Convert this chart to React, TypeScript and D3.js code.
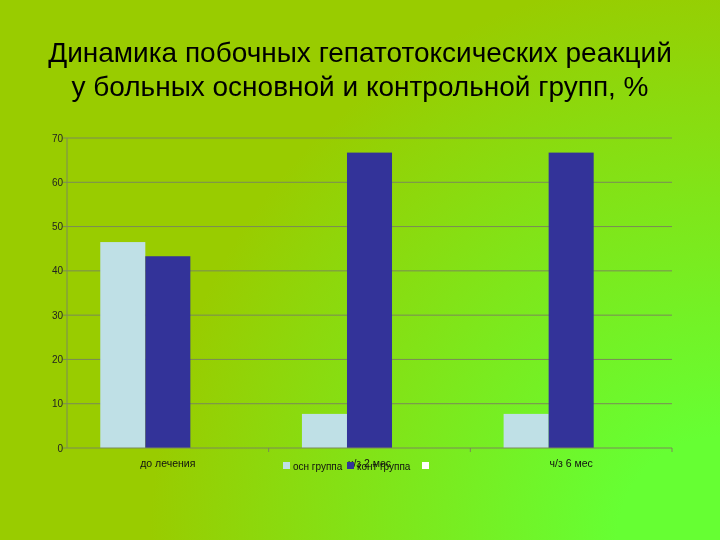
import React from "react";
import * as d3 from "d3";

const titleLines = [
  "Динамика побочных гепатотоксических реакций",
  "у больных основной и контрольной групп, %",
];
const categories = ["до лечения", "ч/з 2 мес", "ч/з 6 мес"];
const seriesNames = ["осн группа", "конт группа", ""];
const seriesColors = ["#bfe0e6", "#333399", "#ffffff"];
const osnValues = [46.5, 7.7, 7.7];
const kontValues = [43.3, 66.7, 66.7];
const emptyValues: (number | null)[] = [null, null, null];
const seriesValues = [osnValues, kontValues, emptyValues];
const yTicks = [0, 10, 20, 30, 40, 50, 60, 70];

const W = 720;
const H = 540;
const plot = { left: 67, right: 672, top: 138, bottom: 448 };
const FONT = "'Liberation Sans', Arial, sans-serif";

export default function App() {
  const y = d3.scaleLinear().domain([0, 70]).range([plot.bottom, plot.top]);
  const x0 = d3.scaleBand<string>().domain(categories).range([plot.left, plot.right]).padding(0);
  const bw = x0.bandwidth();
  const x1 = d3
    .scaleBand<string>()
    .domain(seriesNames.map((_, i) => String(i)))
    .range([bw * 0.165, bw * 0.835])
    .padding(0);

  const legendItems = [
    { sx: 283, tx: 293 },
    { sx: 347, tx: 357 },
    { sx: 422, tx: 432 },
  ];

  return (
    <svg
      width={W}
      height={H}
      style={{ position: "fixed", left: 0, top: 0 }}
      fontFamily={FONT}
    >
      <defs>
        <radialGradient id="bg" gradientUnits="userSpaceOnUse" cx={720} cy={540} r={570}>
          <stop offset="0.18" stopColor="#66ff33" />
          <stop offset="1" stopColor="#99cc00" />
        </radialGradient>
      </defs>
      <rect x={0} y={0} width={W} height={H} fill="url(#bg)" />

      {titleLines.map((t, i) => (
        <text key={i} x={360} y={62 + i * 34} textAnchor="middle" fontSize={28} fill="#000">
          {t}
        </text>
      ))}

      {/* gridlines */}
      {yTicks.map((t) => (
        <g key={t}>
          {t > 0 && (
            <line x1={plot.left} x2={plot.right} y1={y(t)} y2={y(t)} stroke="#7a8a58" strokeWidth={1} />
          )}
          <line x1={plot.left - 4} x2={plot.left} y1={y(t)} y2={y(t)} stroke="#7a8a58" strokeWidth={1} />
          <text x={plot.left - 4} y={y(t)} dy="0.35em" textAnchor="end" fontSize={10} fill="#222">
            {t}
          </text>
        </g>
      ))}

      {/* bars */}
      {categories.map((c, ci) => (
        <g key={c} transform={`translate(${x0(c)},0)`}>
          {seriesValues.map((vals, si) => {
            const v = vals[ci];
            if (v == null) return null;
            return (
              <rect
                key={si}
                x={x1(String(si))}
                y={y(v)}
                width={x1.bandwidth()}
                height={y(0) - y(v)}
                fill={seriesColors[si]}
              />
            );
          })}
        </g>
      ))}

      {/* axes */}
      <line x1={plot.left} x2={plot.left} y1={plot.top} y2={plot.bottom} stroke="#7a8a58" />
      <line x1={plot.left} x2={plot.right} y1={plot.bottom} y2={plot.bottom} stroke="#7a8a58" />
      {categories.map((c) => (
        <line
          key={c}
          x1={(x0(c) as number) + bw}
          x2={(x0(c) as number) + bw}
          y1={plot.bottom}
          y2={plot.bottom + 4}
          stroke="#7a8a58"
        />
      ))}
      {categories.map((c) => (
        <text
          key={c}
          x={(x0(c) as number) + bw / 2}
          y={467}
          textAnchor="middle"
          fontSize={10.5}
          fill="#111"
        >
          {c}
        </text>
      ))}

      {/* legend */}
      {seriesNames.map((n, i) => (
        <g key={i}>
          <rect x={legendItems[i].sx} y={462} width={7} height={7} fill={seriesColors[i]} />
          <text x={legendItems[i].tx} y={470} fontSize={10} fill="#111">
            {n}
          </text>
        </g>
      ))}
    </svg>
  );
}
